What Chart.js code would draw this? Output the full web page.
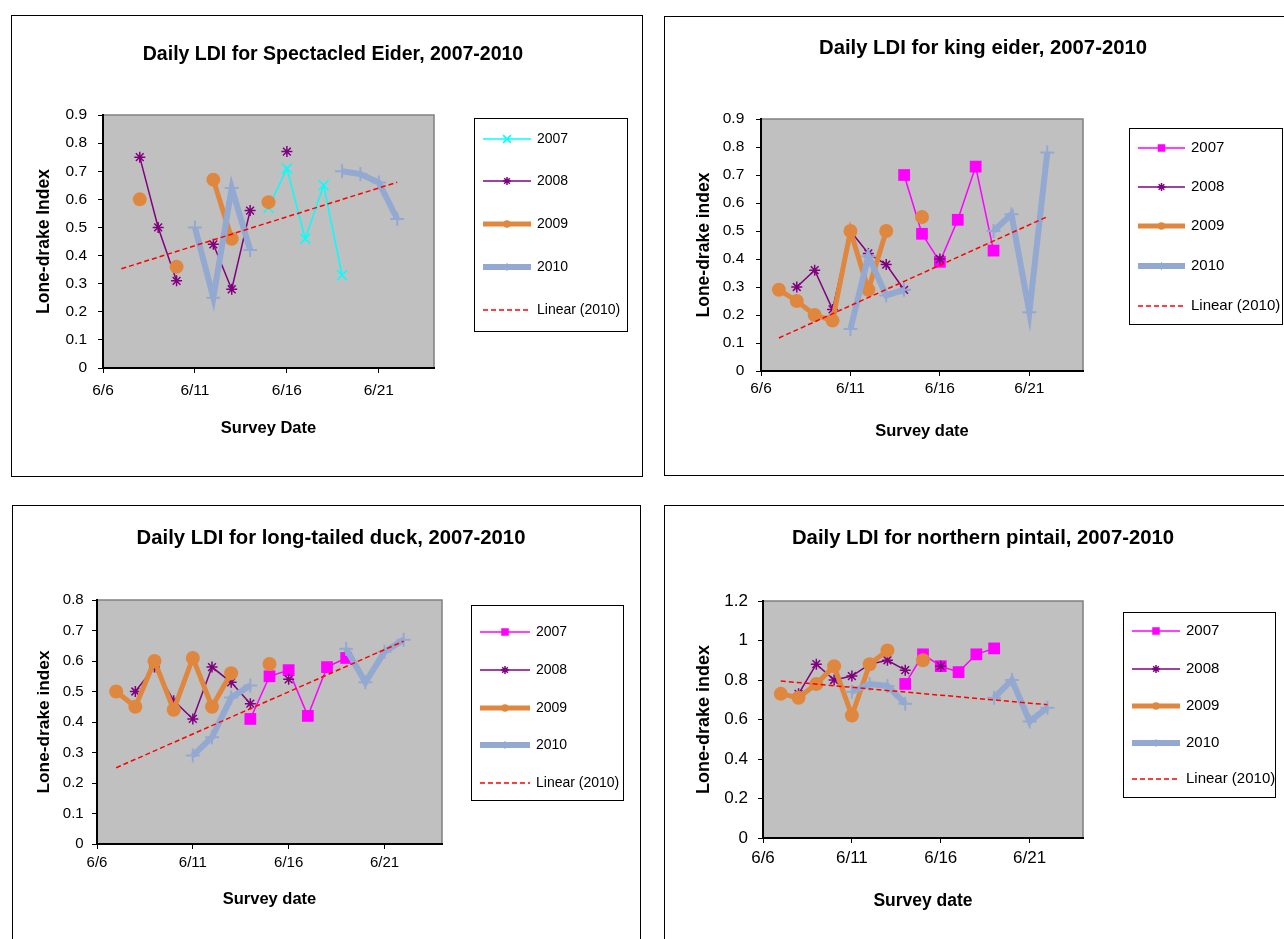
<!DOCTYPE html>
<html>
<head>
<meta charset="utf-8">
<title>Daily LDI 2007-2010</title>
<script src="https://cdn.jsdelivr.net/npm/chart.js@4/dist/chart.umd.min.js"></script>
<style>
  html, body { margin: 0; padding: 0; background: #fff; overflow: hidden; width: 1284px; height: 939px; }
  .panel { position: absolute; border: 1px solid #000; box-sizing: border-box; }
  canvas { position: absolute; }
</style>
</head>
<body>
<div class="panel" style="left:11px;top:15px;width:632px;height:462px"></div>
<div class="panel" style="left:664px;top:16px;width:700px;height:460px"></div>
<div class="panel" style="left:12px;top:505px;width:629px;height:500px"></div>
<div class="panel" style="left:664px;top:505px;width:700px;height:500px"></div>

<canvas id="c-spei" width="629" height="459" style="left:12px;top:16px"></canvas>
<canvas id="c-kiei" width="636" height="458" style="left:665px;top:17px"></canvas>
<canvas id="c-ltdu" width="627" height="445" style="left:13px;top:506px"></canvas>
<canvas id="c-nopi" width="636" height="445" style="left:665px;top:506px"></canvas>

<script>
/* global Chart */

// ---- Data ------------------------------------------------------------------
// survey days in June (6/7 .. 6/22)
const DAYS = [7, 8, 9, 10, 11, 12, 13, 14, 15, 16, 17, 18, 19, 20, 21, 22];
const TICK_DAYS = [6, 11, 16, 21];
const TICK_LABELS = ['6/6', '6/11', '6/16', '6/21'];
const TREND_DAYS = [7, 22];

// Spectacled eider
const SPEI_2007 = [null, null, null, null, null, null, null, null, 0.57, 0.71, 0.46, 0.65, 0.33, null, null, null];
const SPEI_2008 = [null, 0.75, 0.50, 0.31, null, 0.44, 0.28, 0.56, null, 0.77, null, null, null, null, null, null];
const SPEI_2009 = [null, 0.60, null, 0.36, null, 0.67, 0.46, null, 0.59, null, null, null, null, null, null, null];
const SPEI_2010 = [null, null, null, null, 0.50, 0.25, 0.64, 0.42, null, null, null, null, 0.70, 0.69, 0.66, 0.53];
const SPEI_TREND = [0.353, 0.661];

// King eider
const KIEI_2007 = [null, null, null, null, null, null, null, 0.70, 0.49, 0.39, 0.54, 0.73, 0.43, null, null, null];
const KIEI_2008 = [null, 0.30, 0.36, 0.22, 0.50, 0.42, 0.38, 0.29, null, 0.40, null, null, null, null, null, null];
const KIEI_2009 = [0.29, 0.25, 0.20, 0.18, 0.50, 0.29, 0.50, null, 0.55, null, null, null, null, null, null, null];
const KIEI_2010 = [null, null, null, null, 0.15, 0.41, 0.27, 0.29, null, null, null, null, 0.50, 0.56, 0.21, 0.78];
const KIEI_TREND = [0.118, 0.551];

// Long-tailed duck
const LTDU_2007 = [null, null, null, null, null, null, null, 0.41, 0.55, 0.57, 0.42, 0.58, 0.61, null, null, null];
const LTDU_2008 = [null, 0.50, 0.58, 0.47, 0.41, 0.58, 0.53, 0.46, null, 0.54, null, null, null, null, null, null];
const LTDU_2009 = [0.50, 0.45, 0.60, 0.44, 0.61, 0.45, 0.56, null, 0.59, null, null, null, null, null, null, null];
const LTDU_2010 = [null, null, null, null, 0.29, 0.35, 0.48, 0.52, null, null, null, null, 0.64, 0.53, 0.63, 0.67];
const LTDU_TREND = [0.25, 0.665];

// Northern pintail
const NOPI_2007 = [null, null, null, null, null, null, null, 0.78, 0.93, 0.87, 0.84, 0.93, 0.96, null, null, null];
const NOPI_2008 = [null, 0.73, 0.88, 0.80, 0.82, 0.88, 0.90, 0.85, null, 0.87, null, null, null, null, null, null];
const NOPI_2009 = [0.73, 0.71, 0.78, 0.87, 0.62, 0.88, 0.95, null, 0.90, null, null, null, null, null, null, null];
const NOPI_2010 = [null, null, null, null, 0.74, 0.78, 0.77, 0.68, null, null, null, null, 0.71, 0.80, 0.59, 0.66];
const NOPI_TREND = [0.795, 0.675];

// ---- Styles ----------------------------------------------------------------
const FONT = 'Arial, "Liberation Sans", sans-serif';
Chart.defaults.font.family = FONT;
Chart.defaults.color = '#000';

const ST_2007_CYAN = { color: '#00ffff', width: 1.5, point: 'crossRot', radius: 7, pointWidth: 1.5, order: 4, legendRadius: 5.5 };
const ST_2007_MAG = { color: '#ff00ff', width: 1.5, point: 'rect', radius: 8.3, pointWidth: 0, order: 4, legendRadius: 5.3 };
const ST_2008 = { color: '#800080', width: 1.5, point: 'star', radius: 5.5, pointWidth: 1.5, order: 3, legendRadius: 4 };
const ST_2009 = { color: '#e0873f', width: 5, point: 'circle', radius: 7, pointWidth: 0, order: 2, legendRadius: 3.7 };
const ST_2010 = { color: '#93a9d1', width: 6, point: 'cross', radius: 7, pointWidth: 2, order: 1, legendRadius: 4 };
const ST_TREND = { color: '#ff0000', width: 1.5, dash: [5, 3], point: false, radius: 0, pointWidth: 0, order: 0 };

function lineSet(label, days, values, st) {
  return {
    label,
    data: days.map((d, i) => ({ x: d, y: values[i] })),
    borderColor: st.color,
    backgroundColor: st.color,
    borderWidth: st.width,
    borderDash: st.dash || [],
    pointStyle: st.point,
    pointRadius: st.radius,
    pointHoverRadius: st.radius,
    pointBorderWidth: st.pointWidth,
    pointBackgroundColor: st.color,
    pointBorderColor: st.color,
    tension: 0,
    spanGaps: false,
    order: st.order,
    legendRadius: st.legendRadius || 0,
  };
}

// ---- Plugins ---------------------------------------------------------------
// grey plot area with the lighter top/right frame
const plotFrame = {
  id: 'plotFrame',
  beforeDraw(chart) {
    const { ctx, chartArea: a } = chart;
    ctx.save();
    ctx.fillStyle = '#c0c0c0';
    ctx.fillRect(a.left, a.top, a.right - a.left, a.bottom - a.top);
    ctx.strokeStyle = '#808080';
    ctx.lineWidth = 1.5;
    ctx.beginPath();
    ctx.moveTo(a.left, a.top);
    ctx.lineTo(a.right, a.top);
    ctx.lineTo(a.right, a.bottom);
    ctx.stroke();
    ctx.restore();
  },
};

// chart title centred on the whole panel, not on the plot
const panelTitle = {
  id: 'panelTitle',
  afterDraw(chart, args, o) {
    const ctx = chart.ctx;
    ctx.save();
    ctx.font = `bold ${o.size}px ${FONT}`;
    ctx.fillStyle = '#000';
    ctx.textAlign = 'center';
    ctx.textBaseline = 'middle';
    ctx.fillText(o.text, o.x, o.y);
    ctx.restore();
  },
};

function drawMarker(ctx, style, x, y, r, color, bw) {
  if (!style || r <= 0) return;
  const d = r * Math.SQRT1_2;
  ctx.save();
  ctx.fillStyle = color;
  ctx.strokeStyle = color;
  ctx.lineWidth = bw || 1.5;
  ctx.setLineDash([]);
  ctx.beginPath();
  if (style === 'circle') {
    ctx.arc(x, y, r, 0, Math.PI * 2);
    ctx.fill();
  } else if (style === 'rect') {
    ctx.fillRect(x - d, y - d, 2 * d, 2 * d);
  } else {
    if (style === 'cross' || style === 'star') {
      ctx.moveTo(x - r, y); ctx.lineTo(x + r, y);
      ctx.moveTo(x, y - r); ctx.lineTo(x, y + r);
    }
    if (style === 'crossRot' || style === 'star') {
      ctx.moveTo(x - d, y - d); ctx.lineTo(x + d, y + d);
      ctx.moveTo(x - d, y + d); ctx.lineTo(x + d, y - d);
    }
    ctx.stroke();
  }
  ctx.restore();
}

// Excel-style boxed legend at the right of the plot
const boxLegend = {
  id: 'boxLegend',
  afterDraw(chart, args, o) {
    const ctx = chart.ctx;
    ctx.save();
    ctx.strokeStyle = '#000';
    ctx.lineWidth = 1;
    ctx.strokeRect(o.x + 0.5, o.y + 0.5, o.w, o.h);
    ctx.font = `${o.fontSize}px ${FONT}`;
    ctx.textBaseline = 'middle';
    ctx.fillStyle = '#000';
    chart.data.datasets.forEach((ds, i) => {
      const y = o.items[i];
      ctx.save();
      ctx.strokeStyle = ds.borderColor;
      ctx.lineWidth = ds.borderWidth;
      ctx.setLineDash(ds.borderDash || []);
      ctx.beginPath();
      ctx.moveTo(o.lineX[0], y);
      ctx.lineTo(o.lineX[1], y);
      ctx.stroke();
      ctx.restore();
      drawMarker(ctx, ds.pointStyle, (o.lineX[0] + o.lineX[1]) / 2, y, ds.legendRadius, ds.borderColor,
        ds.pointStyle === 'cross' ? 1 : 1.5);
      ctx.fillText(ds.label, o.textX, y);
    });
    ctx.restore();
  },
};

const tickNumber = (v) => String(Number(v.toFixed(2)));

// ---- Chart builder -----------------------------------------------------------
function ldiChart(id, o) {
  const tickFont = { size: o.tickSize, family: FONT };
  return new Chart(document.getElementById(id), {
    type: 'line',
    data: { datasets: o.datasets },
    plugins: [plotFrame, panelTitle, boxLegend],
    options: {
      responsive: false,
      animation: false,
      events: [],
      layout: { padding: { left: 0, top: o.padTop, right: o.padRight, bottom: 0 } },
      plugins: {
        legend: { display: false },
        tooltip: { enabled: false },
        title: { display: false },
        panelTitle: o.title,
        boxLegend: o.legend,
      },
      scales: {
        x: {
          type: 'linear',
          min: 6,
          max: 24,
          afterBuildTicks: (s) => { s.ticks = TICK_DAYS.map((v) => ({ value: v })); },
          afterFit: (s) => { s.height = o.xH; },
          ticks: {
            autoSkip: false,
            maxRotation: 0,
            padding: o.xTickPad,
            color: '#000',
            font: tickFont,
            callback: (v, i) => TICK_LABELS[i],
          },
          grid: { drawOnChartArea: false, drawTicks: true, tickLength: 5, color: '#000', lineWidth: 1 },
          border: { display: true, color: '#000', width: 2 },
          title: {
            display: true, text: o.xTitle, color: '#000',
            font: { size: o.xTitleSize, weight: 'bold', family: FONT },
            padding: { top: 0, bottom: o.xTitlePad },
          },
        },
        y: {
          min: 0,
          max: o.yMax,
          afterFit: (s) => { s.width = o.yW; },
          ticks: { stepSize: o.yStep, padding: o.yTickPad, color: '#000', font: tickFont, callback: tickNumber },
          grid: { drawOnChartArea: false, drawTicks: true, tickLength: 5, color: '#000', lineWidth: 1 },
          border: { display: true, color: '#000', width: 2 },
          title: {
            display: true, text: o.yTitle, color: '#000',
            font: { size: o.yTitleSize, weight: 'bold', family: FONT },
            padding: { top: o.yTitlePad, bottom: 0 },
          },
        },
      },
    },
  });
}

function speciesSets(v2007, v2008, v2009, v2010, trend, st2007) {
  return [
    lineSet('2007', DAYS, v2007, st2007),
    lineSet('2008', DAYS, v2008, ST_2008),
    lineSet('2009', DAYS, v2009, ST_2009),
    lineSet('2010', DAYS, v2010, ST_2010),
    lineSet('Linear (2010)', TREND_DAYS, trend, ST_TREND),
  ];
}

ldiChart('c-spei', {
  title: { text: 'Daily LDI for Spectacled Eider, 2007-2010', x: 321, y: 39, size: 19.5 },
  xTitle: 'Survey Date',
  yTitle: 'Lone-drake Index',
  yMax: 0.9, yStep: 0.1,
  datasets: speciesSets(SPEI_2007, SPEI_2008, SPEI_2009, SPEI_2010, SPEI_TREND, ST_2007_CYAN),
  yW: 91, xH: 107, padTop: 99, padRight: 207,
  tickSize: 15.5, xTitleSize: 16.5, yTitleSize: 17.5, xTitlePad: 37.1, yTitlePad: 21.5, yTickPad: 11, xTickPad: 8.4,
  legend: { x: 462, y: 102, w: 153, h: 213, items: [123, 165, 208, 251, 294], lineX: [471, 519], textX: 525, fontSize: 14 },
});

ldiChart('c-kiei', {
  title: { text: 'Daily LDI for king eider, 2007-2010', x: 318, y: 31, size: 20.3 },
  xTitle: 'Survey date',
  yTitle: 'Lone-drake index',
  yMax: 0.9, yStep: 0.1,
  datasets: speciesSets(KIEI_2007, KIEI_2008, KIEI_2009, KIEI_2010, KIEI_TREND, ST_2007_MAG),
  yW: 96, xH: 104, padTop: 102, padRight: 218,
  tickSize: 15.5, xTitleSize: 16.5, yTitleSize: 17.5, xTitlePad: 34, yTitlePad: 28.4, yTickPad: 11.7, xTickPad: 3.7,
  legend: { x: 464, y: 111, w: 153, h: 196, items: [131, 170, 209, 249, 289], lineX: [473, 520], textX: 526, fontSize: 15 },
});

ldiChart('c-ltdu', {
  title: { text: 'Daily LDI for long-tailed duck, 2007-2010', x: 318, y: 32, size: 20.3 },
  xTitle: 'Survey date',
  yTitle: 'Lone-drake index',
  yMax: 0.8, yStep: 0.1,
  datasets: speciesSets(LTDU_2007, LTDU_2008, LTDU_2009, LTDU_2010, LTDU_TREND, ST_2007_MAG),
  yW: 84, xH: 107, padTop: 94, padRight: 198,
  tickSize: 15, xTitleSize: 16.5, yTitleSize: 17.3, xTitlePad: 42.1, yTitlePad: 20.6, yTickPad: 8.3, xTickPad: 4.7,
  legend: { x: 458, y: 99, w: 152, h: 195, items: [126, 164, 202, 239, 277], lineX: [467, 517], textX: 523, fontSize: 14 },
});

ldiChart('c-nopi', {
  title: { text: 'Daily LDI for northern pintail, 2007-2010', x: 318, y: 32, size: 20.3 },
  xTitle: 'Survey date',
  yTitle: 'Lone-drake index',
  yMax: 1.2, yStep: 0.2,
  datasets: speciesSets(NOPI_2007, NOPI_2008, NOPI_2009, NOPI_2010, NOPI_TREND, ST_2007_MAG),
  yW: 98, xH: 113, padTop: 95, padRight: 218,
  tickSize: 17, xTitleSize: 17.5, yTitleSize: 18, xTitlePad: 39.5, yTitlePad: 28.2, yTickPad: 10, xTickPad: 4.8,
  legend: { x: 458, y: 106, w: 152, h: 185, items: [125, 163, 200, 237, 273], lineX: [467, 515], textX: 521, fontSize: 15 },
});
</script>
</body>
</html>
